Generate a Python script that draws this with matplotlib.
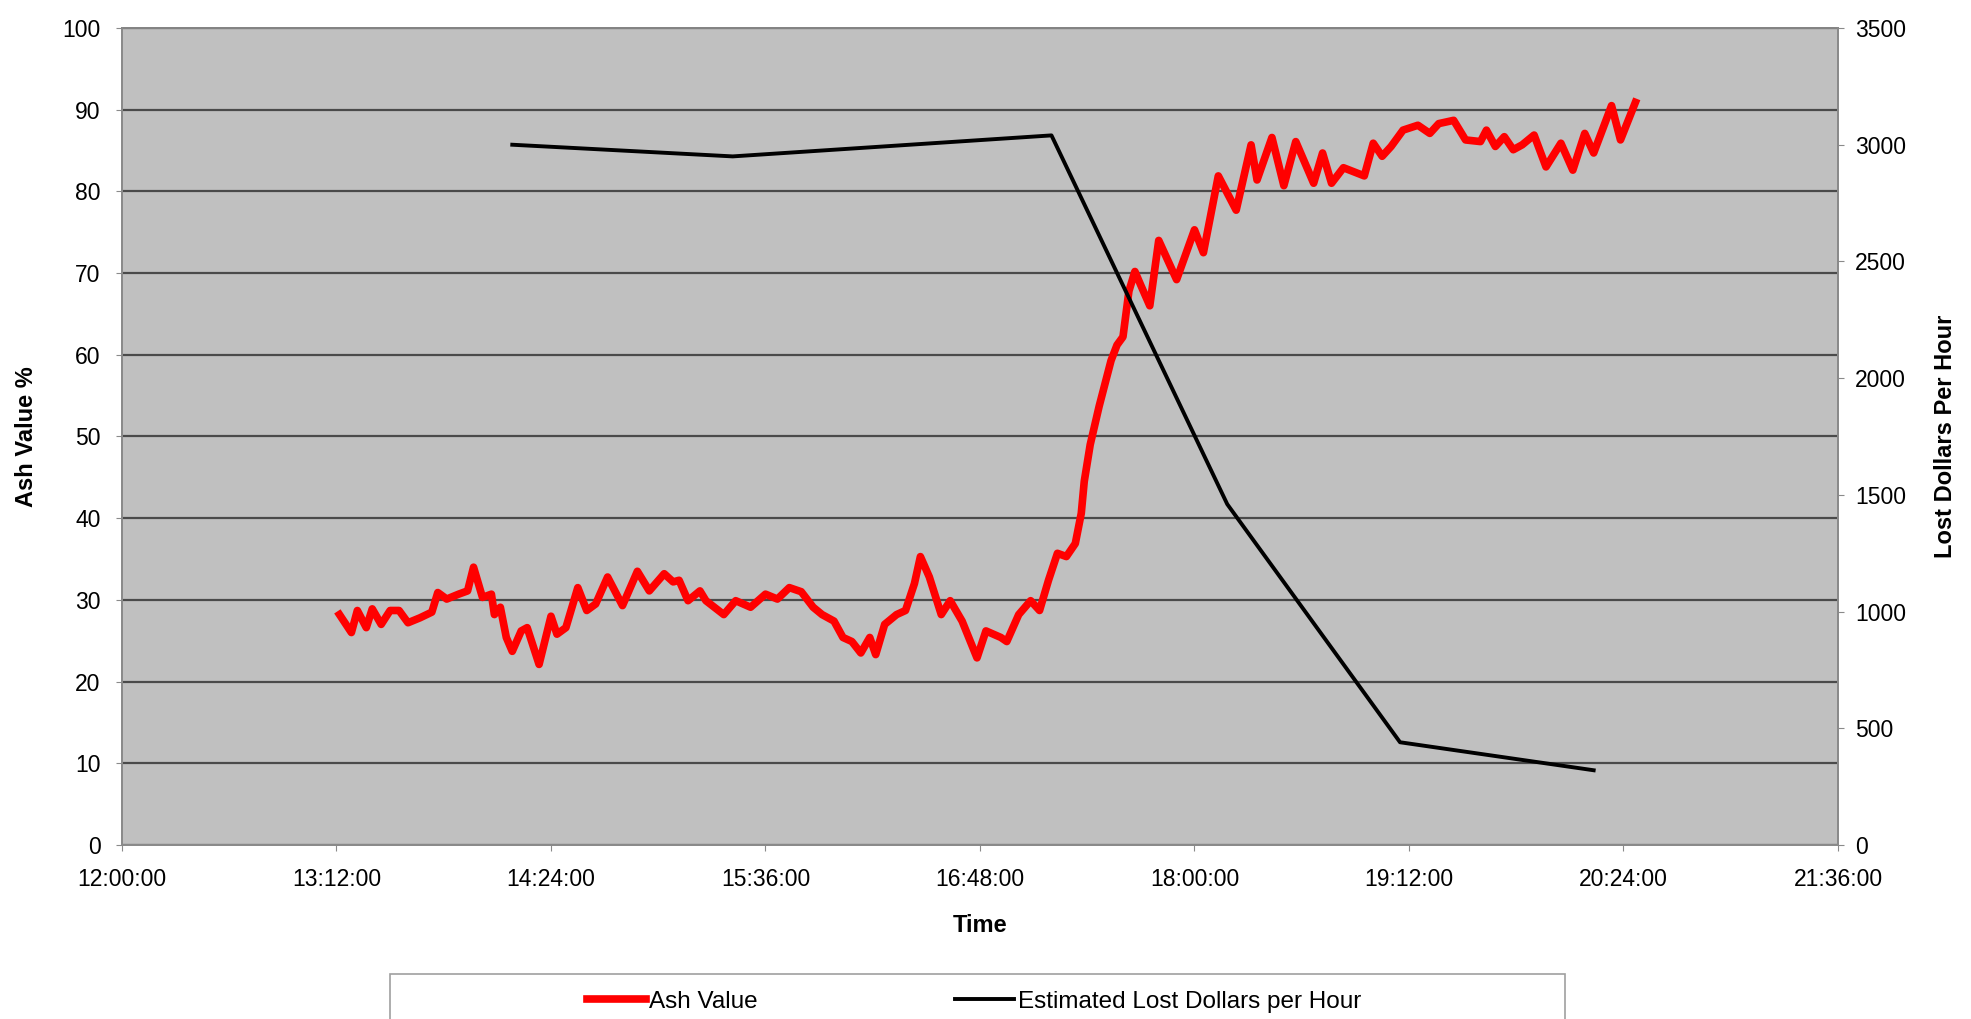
import matplotlib.pyplot as plt
import numpy as np
from matplotlib.patches import Rectangle

plt.rcParams['font.family'] = ['Liberation Sans', 'DejaVu Sans']

# ash value readings, minutes after 12:00
ash_minutes = [73, 77, 79, 82, 84, 87, 90, 93, 96, 100, 104, 106, 109, 113, 116,
               118, 121, 124, 125, 127, 129, 131, 134, 136, 140, 144, 146, 149,
               153, 156, 159, 163, 168, 173, 177, 182, 185, 187, 190, 194, 196,
               202, 206, 211, 216, 220, 224, 228, 232, 235, 239, 242, 245, 248,
               251, 253, 256, 260, 263, 266, 268, 271, 275, 278, 282, 287, 290,
               295, 297, 301, 305, 308, 311, 314, 317, 320, 322, 323, 325, 328,
               332, 334, 336, 338, 340, 342, 345, 348, 354, 360, 363, 368, 374,
               379, 381, 386, 390, 394, 400, 403, 406, 410, 417, 420, 423, 426,
               430, 435, 439, 442, 447, 451, 456, 458, 461, 464, 467, 470, 474,
               478, 483, 487, 491, 494, 500, 503, 508]
ash_values = [28.2, 26.0, 28.7, 26.6, 28.9, 27.0, 28.7, 28.7, 27.2, 27.8, 28.5,
              30.9, 30.1, 30.7, 31.1, 34.0, 30.3, 30.7, 28.2, 29.1, 25.4, 23.7,
              26.2, 26.6, 22.1, 28.0, 25.8, 26.6, 31.5, 28.7, 29.5, 32.8, 29.3,
              33.5, 31.1, 33.2, 32.2, 32.4, 29.9, 31.1, 29.9, 28.2, 29.9, 29.1,
              30.7, 30.1, 31.5, 31.0, 29.1, 28.2, 27.4, 25.4, 24.9, 23.5, 25.4,
              23.3, 27.0, 28.2, 28.7, 32.0, 35.3, 32.8, 28.2, 29.9, 27.4, 22.9,
              26.2, 25.4, 24.9, 28.2, 29.9, 28.7, 32.4, 35.7, 35.3, 36.9, 40.6,
              44.5, 49.0, 53.7, 59.3, 61.2, 62.2, 67.8, 70.2, 68.5, 66.0, 74.0,
              69.2, 75.3, 72.5, 81.9, 77.7, 85.7, 81.4, 86.6, 80.7, 86.1, 81.0,
              84.7, 81.0, 82.9, 81.9, 85.9, 84.3, 85.5, 87.5, 88.1, 87.1, 88.3,
              88.7, 86.3, 86.1, 87.5, 85.5, 86.7, 85.1, 85.7, 86.9, 83.0, 85.9,
              82.6, 87.1, 84.7, 90.5, 86.3, 90.9]

loss_times = ["14:11", "15:25", "17:12", "18:11", "19:09", "20:14"]
loss_values = [3000, 2950, 3040, 1460, 440, 320]


def to_min(s):
    h, m = s.split(":")
    return int(h) * 60 + int(m)


ash_x = [720 + m for m in ash_minutes]
loss_x = [to_min(t) for t in loss_times]

fig = plt.figure(figsize=(19.71, 10.19), dpi=100)
ax = fig.add_axes([0.0619, 0.1708, 0.8706, 0.8017])
ax.set_facecolor('#c0c0c0')

red, = ax.plot(ash_x, ash_values, color='#ff0000', lw=5.5, label='Ash Value')
ax.set_xlim(720, 1296)
ax.set_ylim(0, 100)
ax.set_xticks(np.arange(720, 1297, 72))
ax.set_xticklabels([f"{int(v) // 60:02d}:{int(v) % 60:02d}:00"
                    for v in np.arange(720, 1297, 72)])
ax.set_yticks(range(0, 101, 10))
ax.grid(axis='y', color='#4a4a4a', lw=1.6)
ax.set_axisbelow(True)

ax2 = ax.twinx()
blk, = ax2.plot(loss_x, loss_values, color='black', lw=2.8,
                label='Estimated Lost Dollars per Hour')
ax2.set_ylim(0, 3500)
ax2.set_yticks(range(0, 3501, 500))

for a in (ax, ax2):
    for sp in a.spines.values():
        sp.set_color('#8a8a8a')
        sp.set_linewidth(1.3)
ax.spines['top'].set_color('#4a4a4a')

ax.tick_params(axis='y', labelsize=16.5, length=4.5, pad=11, color='#8a8a8a')
ax.tick_params(axis='x', labelsize=16.5, length=4.5, pad=12, color='#8a8a8a')
ax2.tick_params(axis='y', labelsize=16.5, length=4.5, pad=8, color='#8a8a8a')

ax.set_ylabel('Ash Value %', fontsize=17, fontweight='bold')
ax.yaxis.set_label_coords(-0.049, 0.5)
ax.set_xlabel('Time', fontsize=17, fontweight='bold')
ax.xaxis.set_label_coords(0.5, -0.085)
ax2.set_ylabel('Lost Dollars Per Hour', fontsize=17, fontweight='bold')
ax2.yaxis.set_label_coords(1.056, 0.5)

# legend box (runs off the bottom edge like the original)
fig.patches.append(Rectangle((390 / 1971, -0.02), (1565 - 390) / 1971, 0.0642,
                             transform=fig.transFigure, facecolor='white',
                             edgecolor='#a0a0a0', lw=1.2, zorder=0))
fig.legend(handles=[red, blk], loc='center', bbox_to_anchor=(0.494, 0.0167),
           ncol=2, frameon=False, fontsize=17.5, handlelength=2.43,
           handletextpad=0.15, columnspacing=8.1)

fig.savefig('out.png', dpi=100, facecolor='white')
